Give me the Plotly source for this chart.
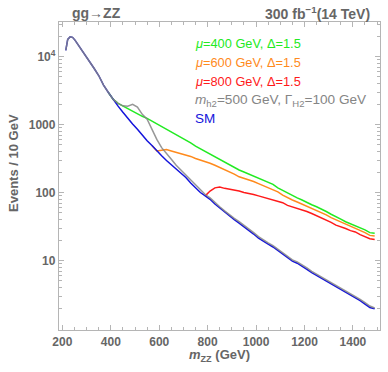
import plotly.graph_objects as go

# bin centres (GeV)
mzz = [214, 222, 232, 242, 252, 270, 290, 310, 330, 350, 370, 390,
       410, 430, 450, 470, 490, 510, 530, 550, 570, 590, 610, 630, 650, 670, 690, 710, 730, 750,
       770, 790, 810, 830, 850, 870, 890, 910, 930, 950, 970, 990, 1010, 1030, 1050, 1070, 1090,
       1110, 1130, 1150, 1170, 1190, 1210, 1230, 1250, 1270, 1290, 1310, 1330, 1350, 1370, 1390,
       1410, 1430, 1450, 1470, 1490]

sm = [12300, 17800, 19500, 19100, 17400, 14100, 11000, 8510, 6760, 5250, 3800, 2950,
      2290, 1860, 1510, 1230, 1020, 851, 692, 575, 490, 407, 347, 295, 257, 219, 191, 166, 138, 117,
      100, 89.1, 79.4, 67.6, 58.9, 51.3, 44.7, 39.8, 35.5, 31.6, 27.5, 24.5, 21.4, 19.1, 17.4, 15.8, 14.1,
      12.6, 11.0, 9.77, 9.12, 8.32, 7.41, 6.61, 6.03, 5.50, 5.01, 4.57, 4.07, 3.80, 3.47, 3.09,
      2.82, 2.57, 2.29, 2.04, 1.95]

h2 = [12300, 17800, 19500, 19100, 17400, 14100, 11000, 8510, 6760, 5250, 3800, 2950,
      2340, 2040, 1880, 1860, 1980, 1800, 1410, 1200, 832, 603, 457, 380, 309, 251, 214, 182, 151, 129,
      110, 93.3, 83.2, 70.8, 61.7, 53.7, 46.8, 41.7, 37.2, 33.1, 28.8, 25.7, 22.4, 20.0, 18.2, 16.6, 14.8,
      13.2, 11.5, 10.2, 9.55, 8.71, 7.76, 6.92, 6.31, 5.75, 5.25, 4.79, 4.27, 3.98, 3.63, 3.24,
      2.95, 2.69, 2.40, 2.14, 2.00]

mu400 = [None] * 11 + [2950,
      2340, 2040, 1860, 1700, 1550, 1450, 1320, 1230, 1120, 1020, 955, 851, 776, 708, 646, 589, 537, 479,
      437, 407, 372, 339, 309, 282, 257, 234, 214, 200, 186, 174, 162, 151, 141, 132, 117,
      107, 97.7, 89.1, 83.2, 77.6, 70.8, 66.1, 61.7, 57.5, 52.5, 47.9, 44.7, 40.7, 37.2, 34.7,
      33.1, 30.2, 28.2, 25.7, 25.1]

mu600 = [None] * 20 + [490, 407, 417, 427, 407, 389, 372, 355, 339, 316,
      302, 288, 269, 251, 234, 214, 200, 186, 170, 162, 151, 145, 135, 126, 120, 112, 102,
      91.2, 83.2, 77.6, 72.4, 67.6, 61.7, 58.9, 55.0, 51.3, 46.8, 42.7, 39.8, 36.3, 33.9, 31.6,
      30.2, 27.5, 25.7, 23.4, 22.9]

mu800 = [None] * 31 + [89.1, 105, 117, 120, 115, 112, 110, 105, 100, 97.7, 93.3, 89.1, 85.1, 81.3,
      77.6, 72.4, 70.8, 64.6, 61.7, 58.9, 56.2, 52.5, 49.0, 45.7, 42.7, 39.8, 36.3, 33.1, 31.6,
      29.5, 27.5, 26.3, 24.0, 22.4, 20.9, 20.4]

x_ticks = [200, 400, 600, 800, 1000, 1200, 1400]
y_ticks = [10, 100, 1000, 10000]
y_ticktext = ["10", "100", "1000", "10<sup>4</sup>"]

GREEN = "#22ea22"
ORANGE = "#ff8a1c"
RED = "#ff1a1a"
GRAY = "#858585"
BLUE = "#1414dc"
TXT = "#666666"
FRAME = "#b5b5b5"
FONT = "Liberation Sans, Arial, sans-serif"

fig = go.Figure()
for vals, col, op in [(mu400, GREEN, 1), (mu600, ORANGE, 1), (mu800, RED, 1),
                      (sm, BLUE, 1), (h2, GRAY, 0.85)]:
    fig.add_trace(go.Scatter(x=mzz, y=vals, mode="lines", line=dict(color=col, width=1.5),
                             opacity=op, connectgaps=False, showlegend=False, hoverinfo="skip"))

minor_x = [v for v in range(200, 1501, 50)]
minor_y = [m * 10 ** k for k in range(0, 5) for m in range(2, 10)]

fig.update_layout(
    width=388, height=372,
    margin=dict(l=59, r=8, t=22, b=42),
    paper_bgcolor="white", plot_bgcolor="white",
    font=dict(family=FONT, color=TXT),
    xaxis=dict(range=[186, 1512], tickvals=x_ticks, ticks="inside", ticklen=5, tickcolor=FRAME,
               showline=True, linecolor=FRAME, linewidth=1.3, mirror="ticks", showgrid=False,
               zeroline=False, tickfont=dict(size=12, color=TXT, weight="bold", family=FONT),
               minor=dict(tickvals=minor_x, ticks="inside", ticklen=3, tickcolor=FRAME, showgrid=False)),
    yaxis=dict(type="log", range=[-0.022, 4.507], tickvals=y_ticks, ticktext=y_ticktext,
               ticks="inside", ticklen=5, tickcolor=FRAME,
               showline=True, linecolor=FRAME, linewidth=1.3, mirror="ticks", showgrid=False,
               zeroline=False, tickfont=dict(size=12, color=TXT, weight="bold", family=FONT),
               minor=dict(tickvals=minor_y, ticks="inside", ticklen=3, tickcolor=FRAME, showgrid=False)),
)

def px(xp, yp):
    return (xp - 59) / 321.0, (330 - yp) / 308.0

anns = []
# titles
x0, y0 = px(70, 13)
anns.append(dict(x=x0, y=y0, text="<b>gg→ZZ</b>", xanchor="left", yanchor="middle",
                 font=dict(size=14, color=TXT)))
x0, y0 = px(372, 13)
anns.append(dict(x=x0, y=y0, text="<b>300 fb<sup>−1</sup>(14 TeV)</b>", xanchor="right", yanchor="middle",
                 font=dict(size=14, color=TXT)))
# axis titles
x0, y0 = px(220, 355)
anns.append(dict(x=x0, y=y0, text="<b><i>m</i><sub>ZZ</sub> (GeV)</b>", xanchor="center", yanchor="middle",
                 font=dict(size=13, color=TXT)))
x0, y0 = px(13, 163)
anns.append(dict(x=x0, y=y0, text="<b>Events / 10 GeV</b>", textangle=-90, xanchor="center",
                 yanchor="middle", font=dict(size=13, color=TXT)))
# legend texts
legend = [
    ("<i>μ</i>=400 GeV, Δ=1.5", GREEN, 43, 12.8),
    ("<i>μ</i>=600 GeV, Δ=1.5", ORANGE, 62, 12.8),
    ("<i>μ</i>=800 GeV, Δ=1.5", RED, 82, 12.8),
    ("<i>m</i><sub>h2</sub>=500 GeV, Γ<sub>H2</sub>=100 GeV", GRAY, 100, 13.6),
    ("SM", BLUE, 118, 13.5),
]
for txt, col, yy, fs in legend:
    x0, y0 = px(193, yy)
    anns.append(dict(x=x0, y=y0, text=txt, xanchor="left", yanchor="middle",
                     font=dict(size=fs, color=col)))
for a in anns:
    a.update(xref="paper", yref="paper", showarrow=False)
fig.update_layout(annotations=anns)

fig.write_html("out.html", config={"displayModeBar": False},
               post_script="document.body.style.margin='0';document.body.style.padding='0';")
